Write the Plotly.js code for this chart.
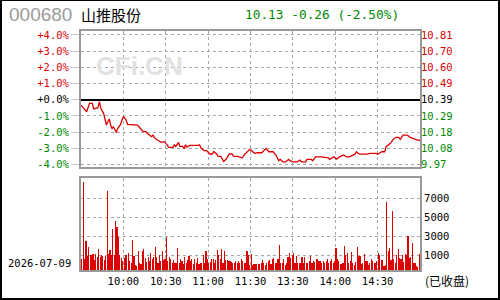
<!DOCTYPE html>
<html><head><meta charset="utf-8">
<script src="https://cdn.plot.ly/plotly-3.0.1.min.js"></script>
<style>
html,body{margin:0;padding:0;background:#fff;}
#wrap{position:relative;width:500px;height:300px;}
#chart{width:500px;height:300px;}
#frame{position:absolute;left:0;top:0;width:500px;height:300px;box-sizing:border-box;border:2px solid #000;border-top-width:1px;pointer-events:none;}
</style></head>
<body><div id="wrap"><div id="chart"></div><div id="frame"></div></div>
<script>
// ---- data ----
const code = "000680";
const name = "山推股份";
const lastPrice = "10.13", change = "-0.26", changePct = "(-2.50%)";
const dateLabel = "2026-07-09";
const statusLabel = "(已收盘)";
const watermark = "CFi.CN";

// price line: minute index (0..240) and % change vs prev close 10.39
const priceMin = [0,4,6,8,9,12,13,14,16,17,18,19,20,21,22,23,25,26,27,28,29,30,31,32,33,36,38,40,41,42,44,46,47,50,51,52,54,57,59,
 60,61,62,65,66,67,68,69,70,72,73,74,75,77,83,84,85,87,89,90,91,93,94,96,97,99,100,101,103,104,105,107,108,111,113,114,116,117,119,
 120,123,125,128,130,131,133,136,138,140,141,143,145,147,148,150,153,155,156,159,160,163,164,166,170,173,175,176,179,181,183,186,188,190,
 194,195,197,200,202,205,209,210,213,215,216,219,221,223,225,226,228,231,233,235,238,240];
const pricePct = [-0.33,-0.74,-0.22,-0.22,-0.57,-0.49,-0.12,-0.53,-0.84,-1.15,-1.56,-1.36,-1.19,-1.56,-1.77,-1.67,-2.02,-1.77,-1.67,-1.52,-1.26,-1.03,-1.15,-1.26,-1.52,-1.52,-1.56,-1.56,-1.67,-1.77,-1.97,-1.97,-2.08,-2.28,-2.18,-2.35,-2.49,-2.63,-2.59,
 -2.69,-2.78,-2.94,-2.94,-2.78,-2.88,-2.78,-2.63,-2.88,-2.88,-3.02,-2.78,-2.92,-2.82,-2.82,-2.78,-2.98,-3.14,-3.14,-3.23,-3.35,-3.35,-3.19,-3.35,-3.50,-3.50,-3.70,-3.81,-3.64,-3.50,-3.35,-3.35,-3.50,-3.50,-3.60,-3.60,-3.35,-3.29,-3.09,
 -3.10,-3.31,-3.27,-3.27,-3.06,-3.00,-3.21,-3.21,-3.41,-3.76,-3.68,-3.83,-3.83,-3.68,-3.76,-3.83,-3.83,-3.72,-3.83,-3.83,-3.68,-3.68,-3.76,-3.52,-3.52,-3.58,-3.58,-3.68,-3.52,-3.66,-3.52,-3.41,-3.52,-3.52,
 -3.36,-3.21,-3.36,-3.36,-3.36,-3.31,-3.31,-3.36,-3.21,-3.21,-2.90,-2.69,-2.45,-2.32,-2.32,-2.45,-2.18,-2.18,-2.32,-2.38,-2.49,-2.50];

// per-minute volume (240 minutes)
const volume = [
 1120,9270,1200,3020,1500,2420,1540,1540,1650,1020,
 1650,1370,2180,1400,1540,1440,1020,1470,8320,1650,
 2070,1540,4280,1540,5120,4490,3440,1540,1260,980,
 1260,1540,1540,1820,910,740,3120,1470,500,400,
 1970,770,670,1970,2180,1260,840,1370,910,1820,
 1190,1370,2390,1370,770,1540,910,1970,1020,1120,
 3470,980,1330,1120,770,1020,770,770,2320,770,
 1120,910,670,1330,770,1050,1470,910,1190,630,
 1190,700,1230,670,770,700,1610,770,1970,1120,
 770,840,1190,1120,700,1020,2070,1540,1190,2180,
 770,1970,1020,1020,980,910,840,770,700,910,
 700,910,700,1190,980,700,700,1970,1540,560,
 1650,490,600,600,600,600,600,770,1020,700,
 490,700,910,1020,600,1190,1300,700,770,1190,
 2600,770,700,1120,560,770,1400,1820,1260,1540,
 1820,700,1470,770,700,770,1330,700,1330,770,
 770,900,1470,770,980,840,1120,1120,910,910,
 770,910,770,910,1190,770,910,1190,770,910,
 2320,1190,910,670,670,770,2530,1540,1820,770,
 910,1900,770,500,800,2420,1470,1470,670,770,
 1720,980,910,560,770,1190,910,770,770,910,
 1820,1540,1020,1020,400,500,7090,1970,2320,1000,
 6180,1190,770,1540,2180,1260,1120,1610,840,1720,
 1540,3580,1260,1330,2810,770,770,420,300,1650];

const pctTicks = [4,3,2,1,0,-1,-2,-3,-4];
const pctLabels = ["+4.0%","+3.0%","+2.0%","+1.0%","+0.0%","-1.0%","-2.0%","-3.0%","-4.0%"];
const priceLabels = ["10.81","10.70","10.60","10.49","10.39","10.29","10.18","10.08","9.97"];
const timeTicks = [30,60,90,120,150,180,210];
const timeLabels = ["10:00","10:30","11:00","11:30","13:30","14:00","14:30"];
const volTickVals = [1516,3516,5516,7516];
const volLabels = ["1000","3000","5000","7000"];

// ---- styling ----
const RED = "#dd0000", GREEN = "#008800", BLACK = "#000";
function colorFor(v){ return v>0?RED:(v<0?GREEN:BLACK); }
const mono = "DejaVu Sans Mono, monospace";
const gridC = "#a8a8a8", frameC = "#999";

const traces = [
 {x: priceMin, y: pricePct, type:'scatter', mode:'lines', xaxis:'x', yaxis:'y',
  line:{color:RED, width:1.3}, hoverinfo:'skip', showlegend:false},
 {x: priceMin, y: pricePct, type:'scatter', mode:'lines', xaxis:'x', yaxis:'y3',
  line:{color:RED, width:0}, opacity:0, hoverinfo:'skip', showlegend:false},
 {x: volume.map((v,i)=>i+0.5), y: volume, type:'bar', xaxis:'x2', yaxis:'y2',
  marker:{color:RED, line:{width:0}}, width:0.8, hoverinfo:'skip', showlegend:false}
];

const axBase = {showline:true, mirror:true, linecolor:frameC, linewidth:2,
  showgrid:true, gridcolor:gridC, griddash:'dot', gridwidth:1, zeroline:false, fixedrange:true};

const layout = {
 width:500, height:300,
 margin:{l:81, r:80, t:31, b:30, pad:0},
 paper_bgcolor:'#fff', plot_bgcolor:'#fff',
 font:{family:mono, size:10, color:'#000'},
 showlegend:false,
 xaxis: Object.assign({}, axBase, {domain:[0,1], anchor:'y', range:[0,240],
   tickmode:'array', tickvals:timeTicks, showticklabels:false, ticks:''}),
 yaxis: Object.assign({}, axBase, {domain:[0.431,1], anchor:'x', range:[-4.15,4.24],
   tickmode:'array', tickvals:pctTicks,
   ticktext: pctLabels.map((t,i)=>'<span style="color:'+colorFor(pctTicks[i])+'">'+t+'</span>'),
   ticks:'outside', ticklen:8, tickcolor:'#c8c8c8', tickwidth:1,
   zeroline:true, zerolinecolor:'#000', zerolinewidth:2,
   tickfont:{family:mono, size:10.5}}),
 yaxis3: {overlaying:'y', side:'right', anchor:'x', range:[-4.15,4.24],
   tickmode:'array', tickvals:pctTicks,
   ticktext: priceLabels.map((t,i)=>'<span style="color:'+colorFor(pctTicks[i])+'">'+t+'</span>'),
   showgrid:false, zeroline:false, showline:false, ticks:'', fixedrange:true,
   tickfont:{family:mono, size:10.5}},
 xaxis2: Object.assign({}, axBase, {domain:[0,1], anchor:'y2', range:[0,240],
   tickmode:'array', tickvals:timeTicks, ticktext:timeLabels, ticks:'',
   tickfont:{family:mono, size:10.5}}),
 yaxis2: Object.assign({}, axBase, {domain:[0,0.385], anchor:'x2', side:'right', range:[0,9656],
   tickmode:'array', tickvals:volTickVals, ticktext:volLabels, ticks:'',
   tickfont:{family:mono, size:10.5}}),
 bargap:0,
 annotations:[
  {text:code, xref:'paper', yref:'paper', x:-0.218, y:1.067, xanchor:'left', yanchor:'middle',
   showarrow:false, font:{family:'Liberation Sans, Arial', size:19, color:'#9a9a9a'}},
  {text:name, xref:'paper', yref:'paper', x:-0.006, y:1.067, xanchor:'left', yanchor:'middle',
   showarrow:false, font:{family:'Noto Sans CJK SC', size:15, color:'#000'}},
  {text:lastPrice+' '+change+' '+changePct, xref:'paper', yref:'paper', x:0.478, y:1.067, xanchor:'left', yanchor:'middle',
   showarrow:false, font:{family:mono, size:12.8, color:GREEN}},
  {text:dateLabel, xref:'paper', yref:'paper', x:-0.222, y:0.029, xanchor:'left', yanchor:'middle',
   showarrow:false, font:{family:mono, size:10.5, color:'#000'}},
  {text:statusLabel, xref:'paper', yref:'paper', x:1.008, y:-0.042, xanchor:'left', yanchor:'middle',
   showarrow:false, font:{family:'Noto Sans CJK SC', size:12, color:'#000'}},
  {text:'<b>'+watermark+'</b>', xref:'paper', yref:'paper', x:0.174, y:0.853, xanchor:'center', yanchor:'middle',
   showarrow:false, font:{family:'Liberation Sans, Arial', size:26, color:'#e2e2e2'}}
 ]
};

Plotly.newPlot('chart', traces, layout, {staticPlot:true, displayModeBar:false});
</script>
</body></html>
